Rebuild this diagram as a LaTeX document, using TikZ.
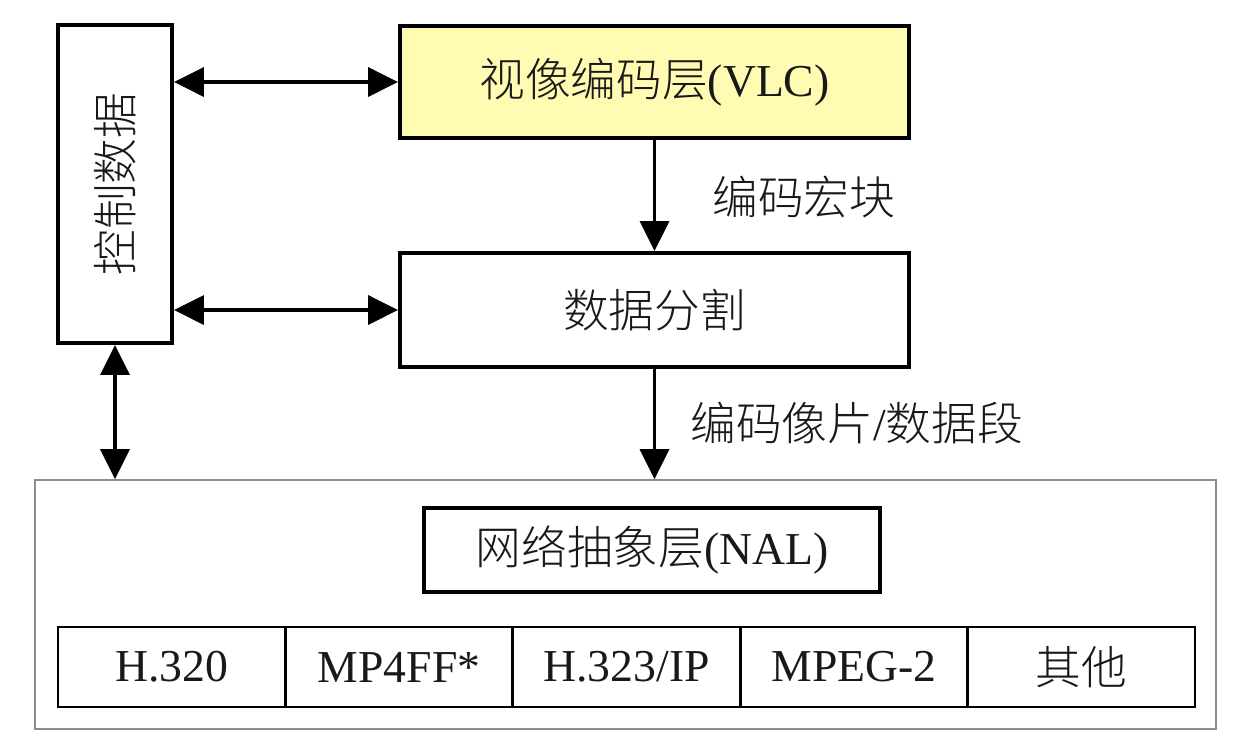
\documentclass[tikz,border=0pt]{standalone}
\usepackage{fontspec}
\setmainfont{Liberation Serif}
\newfontfamily\cjk{Noto Sans CJK SC}[UprightFont={* Light}]
\usetikzlibrary{arrows.meta,calc}
\definecolor{vlcyellow}{RGB}{255,251,178}
\definecolor{textcol}{RGB}{25,25,25}
\definecolor{outergray}{RGB}{140,140,140}
\tikzset{
  blk/.style={draw=black, line width=2.2pt, inner sep=0pt, text=textcol,
    font=\fontsize{26}{30}\selectfont},
  cell/.style={draw=black, line width=1.6pt, inner sep=0pt, outer sep=0pt, text=textcol,
    minimum width=227.4*0.02cm, minimum height=80*0.02cm,
    font=\fontsize{26}{30}\selectfont},
  lbl/.style={inner sep=0pt, anchor=west, text=textcol,
    font=\fontsize{26}{30}\selectfont},
  conn/.style={line width=2pt, draw=black,
    arrows={-Triangle[length=0.6cm, width=0.58cm]}},
  dconn/.style={line width=2pt, draw=black,
    arrows={Triangle[length=0.6cm, width=0.58cm]-Triangle[length=0.6cm, width=0.58cm]}},
}
\begin{document}
\begin{tikzpicture}[x=0.02cm, y=-0.02cm]
\useasboundingbox (0,0) rectangle (1240,744);
\fill[white] (0,0) rectangle (1240,744);
% outer NAL container
\node[draw=outergray, line width=0.9pt, minimum width=1181*0.02cm, minimum height=249*0.02cm, inner sep=0pt] (outer) at (625.5,604.5) {};
% control data box
\node[blk, minimum width=114*0.02cm, minimum height=318*0.02cm] (ctl) at (115,184) {};
\node[text=textcol, font=\fontsize{26}{30}\selectfont\cjk, rotate=90, inner sep=0pt] (ctltext) at (ctl.center) {控制数据};
% VLC
\node[blk, fill=vlcyellow, minimum width=509*0.02cm, minimum height=112*0.02cm] (vlc) at (654.5,82) {{\cjk 视像编码层}(VLC)};
% data partition
\node[blk, minimum width=509*0.02cm, minimum height=114*0.02cm] (data) at (654.5,310) {{\cjk 数据分割}};
% NAL
\node[blk, minimum width=456*0.02cm, minimum height=84*0.02cm] (nal) at (652,550) {{\cjk 网络抽象层}(NAL)};
% bottom row
\node[cell] (c1) at (171.7,667) {H.320};
\node[cell, anchor=west] (c2) at (c1.east) {MP4FF*};
\node[cell, anchor=west] (c3) at (c2.east) {H.323/IP};
\node[cell, anchor=west] (c4) at (c3.east) {MPEG-2};
\node[cell, anchor=west] (c5) at (c4.east) {\cjk 其他};
% labels
\node[lbl] (l1) at (712,197) {\cjk 编码宏块};
\node[lbl] (l2) at (690,423) {{\cjk 编码像片}/{\cjk 数据段}};
% connectors
\draw[dconn] (vlc.west -| ctl.east) -- (vlc.west);
\draw[dconn] (data.west -| ctl.east) -- (data.west);
\draw[dconn] (ctl.south) -- (ctl.south |- outer.north);
\draw[conn] (vlc.south) -- (data.north);
\draw[conn] (data.south) -- (data.south |- outer.north);
\end{tikzpicture}
\end{document}
